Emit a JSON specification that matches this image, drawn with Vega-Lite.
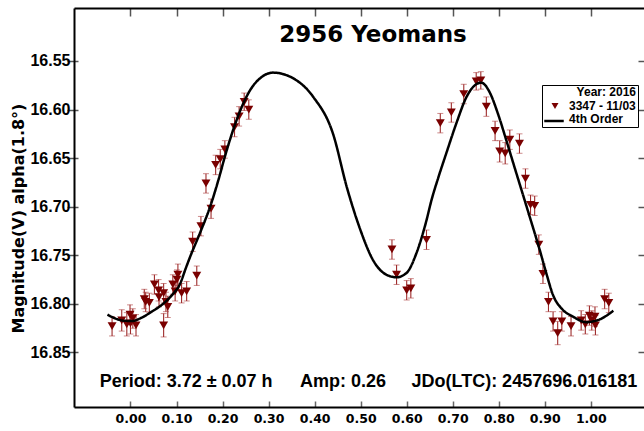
{
  "$schema": "https://vega.github.io/schema/vega-lite/v6.json",
  "width": 570,
  "height": 399,
  "autosize": {"type": "none"},
  "padding": {"left": 74, "top": 8, "right": 0, "bottom": 24},
  "background": "white",
  "title": {"text": "2956 Yeomans", "font": "DejaVu Sans", "fontSize": 23, "fontWeight": "bold", "color": "black", "anchor": "middle", "frame": "group", "baseline": "alphabetic", "offset": 0, "dx": 14, "dy": 58},
  "config": {"view": {"stroke": null}, "axis": {"grid": false, "labelFlush": false}},
  "datasets": {
    "obs": [
      {"phase": -0.040, "mag": 16.823, "err": 0.010},
      {"phase": -0.019, "mag": 16.817, "err": 0.011},
      {"phase": -0.008, "mag": 16.821, "err": 0.012},
      {"phase": -0.001, "mag": 16.811, "err": 0.010},
      {"phase": 0.000, "mag": 16.820, "err": 0.011},
      {"phase": 0.005, "mag": 16.815, "err": 0.010},
      {"phase": 0.012, "mag": 16.822, "err": 0.011},
      {"phase": 0.030, "mag": 16.795, "err": 0.010},
      {"phase": 0.033, "mag": 16.798, "err": 0.010},
      {"phase": 0.041, "mag": 16.799, "err": 0.010},
      {"phase": 0.052, "mag": 16.780, "err": 0.010},
      {"phase": 0.061, "mag": 16.786, "err": 0.011},
      {"phase": 0.062, "mag": 16.793, "err": 0.010},
      {"phase": 0.072, "mag": 16.789, "err": 0.010},
      {"phase": 0.072, "mag": 16.822, "err": 0.012},
      {"phase": 0.077, "mag": 16.798, "err": 0.010},
      {"phase": 0.081, "mag": 16.803, "err": 0.011},
      {"phase": 0.092, "mag": 16.780, "err": 0.010},
      {"phase": 0.097, "mag": 16.787, "err": 0.010},
      {"phase": 0.101, "mag": 16.775, "err": 0.010},
      {"phase": 0.103, "mag": 16.770, "err": 0.011},
      {"phase": 0.111, "mag": 16.789, "err": 0.010},
      {"phase": 0.122, "mag": 16.787, "err": 0.010},
      {"phase": 0.144, "mag": 16.771, "err": 0.010},
      {"phase": 0.135, "mag": 16.736, "err": 0.010},
      {"phase": 0.153, "mag": 16.720, "err": 0.010},
      {"phase": 0.164, "mag": 16.676, "err": 0.010},
      {"phase": 0.175, "mag": 16.702, "err": 0.010},
      {"phase": 0.185, "mag": 16.657, "err": 0.010},
      {"phase": 0.195, "mag": 16.651, "err": 0.010},
      {"phase": 0.205, "mag": 16.641, "err": 0.009},
      {"phase": 0.226, "mag": 16.618, "err": 0.010},
      {"phase": 0.236, "mag": 16.607, "err": 0.010},
      {"phase": 0.247, "mag": 16.592, "err": 0.009},
      {"phase": 0.257, "mag": 16.600, "err": 0.010},
      {"phase": 0.568, "mag": 16.744, "err": 0.010},
      {"phase": 0.578, "mag": 16.770, "err": 0.010},
      {"phase": 0.600, "mag": 16.786, "err": 0.010},
      {"phase": 0.609, "mag": 16.784, "err": 0.010},
      {"phase": 0.643, "mag": 16.734, "err": 0.010},
      {"phase": 0.673, "mag": 16.614, "err": 0.010},
      {"phase": 0.697, "mag": 16.603, "err": 0.010},
      {"phase": 0.724, "mag": 16.584, "err": 0.010},
      {"phase": 0.751, "mag": 16.571, "err": 0.009},
      {"phase": 0.761, "mag": 16.570, "err": 0.009},
      {"phase": 0.773, "mag": 16.597, "err": 0.010},
      {"phase": 0.792, "mag": 16.622, "err": 0.010},
      {"phase": 0.802, "mag": 16.643, "err": 0.011},
      {"phase": 0.814, "mag": 16.645, "err": 0.011},
      {"phase": 0.824, "mag": 16.631, "err": 0.010},
      {"phase": 0.845, "mag": 16.635, "err": 0.010},
      {"phase": 0.858, "mag": 16.671, "err": 0.010},
      {"phase": 0.869, "mag": 16.698, "err": 0.010},
      {"phase": 0.878, "mag": 16.699, "err": 0.010},
      {"phase": 0.887, "mag": 16.739, "err": 0.010},
      {"phase": 0.896, "mag": 16.769, "err": 0.010},
      {"phase": 0.908, "mag": 16.798, "err": 0.010},
      {"phase": 0.918, "mag": 16.818, "err": 0.010},
      {"phase": 0.928, "mag": 16.830, "err": 0.012},
      {"phase": 0.937, "mag": 16.818, "err": 0.010},
      {"phase": 0.957, "mag": 16.823, "err": 0.010},
      {"phase": 0.979, "mag": 16.817, "err": 0.010},
      {"phase": 0.988, "mag": 16.821, "err": 0.010},
      {"phase": 0.997, "mag": 16.812, "err": 0.010},
      {"phase": 1.002, "mag": 16.817, "err": 0.010},
      {"phase": 1.009, "mag": 16.813, "err": 0.010},
      {"phase": 1.010, "mag": 16.822, "err": 0.010},
      {"phase": 1.030, "mag": 16.795, "err": 0.010},
      {"phase": 1.039, "mag": 16.799, "err": 0.010}
    ],
    "fit": [
      {"phase": -0.050, "mag": 16.811},
      {"phase": -0.033, "mag": 16.815},
      {"phase": -0.015, "mag": 16.8173},
      {"phase": 0.003, "mag": 16.8176},
      {"phase": 0.025, "mag": 16.814},
      {"phase": 0.046, "mag": 16.808},
      {"phase": 0.068, "mag": 16.801},
      {"phase": 0.090, "mag": 16.791},
      {"phase": 0.108, "mag": 16.779},
      {"phase": 0.120, "mag": 16.7635},
      {"phase": 0.130, "mag": 16.751},
      {"phase": 0.151, "mag": 16.727},
      {"phase": 0.173, "mag": 16.700},
      {"phase": 0.191, "mag": 16.6725},
      {"phase": 0.205, "mag": 16.6485},
      {"phase": 0.223, "mag": 16.621},
      {"phase": 0.242, "mag": 16.597},
      {"phase": 0.260, "mag": 16.580},
      {"phase": 0.281, "mag": 16.568},
      {"phase": 0.310, "mag": 16.562},
      {"phase": 0.354, "mag": 16.568},
      {"phase": 0.397, "mag": 16.587},
      {"phase": 0.440, "mag": 16.625},
      {"phase": 0.470, "mag": 16.680},
      {"phase": 0.498, "mag": 16.722},
      {"phase": 0.527, "mag": 16.755},
      {"phase": 0.556, "mag": 16.770},
      {"phase": 0.578, "mag": 16.7726},
      {"phase": 0.600, "mag": 16.768},
      {"phase": 0.621, "mag": 16.748},
      {"phase": 0.643, "mag": 16.714},
      {"phase": 0.654, "mag": 16.693},
      {"phase": 0.668, "mag": 16.671},
      {"phase": 0.686, "mag": 16.645},
      {"phase": 0.708, "mag": 16.614},
      {"phase": 0.730, "mag": 16.587},
      {"phase": 0.751, "mag": 16.574},
      {"phase": 0.762, "mag": 16.5723},
      {"phase": 0.780, "mag": 16.582},
      {"phase": 0.798, "mag": 16.604},
      {"phase": 0.816, "mag": 16.631},
      {"phase": 0.834, "mag": 16.659},
      {"phase": 0.845, "mag": 16.676},
      {"phase": 0.867, "mag": 16.710},
      {"phase": 0.889, "mag": 16.7445},
      {"phase": 0.903, "mag": 16.768},
      {"phase": 0.918, "mag": 16.791},
      {"phase": 0.939, "mag": 16.806},
      {"phase": 0.961, "mag": 16.813},
      {"phase": 0.990, "mag": 16.8188},
      {"phase": 1.019, "mag": 16.816},
      {"phase": 1.049, "mag": 16.807}
    ]
  },
  "resolve": {"axis": {"x": "independent", "y": "independent"}},
  "layer": [
    {
      "data": {"name": "obs"},
      "mark": {"type": "errorbar", "ticks": {"size": 6, "color": "#b85a5a"}, "rule": {"color": "#9e2b2b", "strokeWidth": 1.1}},
      "encoding": {
        "x": {"field": "phase", "type": "quantitative", "scale": {"domain": [-0.1227, 1.1155], "nice": false, "zero": false},
              "axis": {"orient": "top", "title": null, "labels": false, "domain": true, "domainColor": "black", "domainWidth": 2, "ticks": true, "tickSize": -8, "tickColor": "#555555", "tickWidth": 1.5, "values": [0, 0.1, 0.2, 0.3, 0.4, 0.5, 0.6, 0.7, 0.8, 0.9, 1.0]}},
        "y": {"field": "mag", "type": "quantitative", "scale": {"domain": [16.4955, 16.9061], "reverse": true, "nice": false, "zero": false},
              "axis": {"orient": "right", "title": null, "labels": false, "domain": false, "ticks": true, "tickSize": -6, "tickColor": "#555555", "tickWidth": 1.5, "values": [16.55, 16.6, 16.65, 16.7, 16.75, 16.8, 16.85]}},
        "yError": {"field": "err"}
      }
    },
    {
      "data": {"name": "obs"},
      "mark": {"type": "point", "shape": "triangle-down", "filled": true, "size": 80, "opacity": 1},
      "encoding": {
        "x": {"field": "phase", "type": "quantitative", "scale": {"domain": [-0.1227, 1.1155], "nice": false, "zero": false},
              "axis": {"orient": "bottom", "title": null, "labels": false, "domain": false, "ticks": true, "tickSize": -6, "tickColor": "#666666", "tickWidth": 1.5, "values": [0, 0.1, 0.2, 0.3, 0.4, 0.5, 0.6, 0.7, 0.8, 0.9, 1.0]}},
        "y": {"field": "mag", "type": "quantitative", "scale": {"domain": [16.4955, 16.9061], "reverse": true, "nice": false, "zero": false},
              "axis": {"orient": "left", "title": null, "labels": false, "domain": false, "ticks": true, "tickSize": -4, "tickColor": "#555555", "tickWidth": 1.5, "values": [16.55, 16.6, 16.65, 16.7, 16.75, 16.8, 16.85]}},
        "color": {"datum": "3347 - 11/03", "type": "nominal",
                  "scale": {"domain": ["3347 - 11/03", "4th Order"], "range": ["#7a0000", "transparent"]},
                  "legend": {"orient": "none", "legendX": 468, "legendY": 77, "title": "Year: 2016", "titleAnchor": "end",
                             "titleFont": "Liberation Sans", "titleFontSize": 12, "titleFontWeight": "bold", "titleColor": "black", "titlePadding": 1,
                             "labelFont": "Liberation Sans", "labelFontSize": 12, "labelFontWeight": "bold", "labelColor": "black",
                             "fillColor": "white", "strokeColor": "black", "padding": 2, "rowPadding": 1,
                             "symbolSize": 49, "symbolOffset": 5, "labelOffset": 8}}
      }
    },
    {
      "data": {"name": "fit"},
      "mark": {"type": "line", "strokeWidth": 2.5, "interpolate": "monotone", "color": "#000000"},
      "encoding": {
        "x": {"field": "phase", "type": "quantitative", "scale": {"domain": [-0.1227, 1.1155], "nice": false, "zero": false},
              "axis": {"orient": "bottom", "title": null, "domain": true, "domainColor": "black", "domainWidth": 2, "ticks": false,
                       "labelFont": "DejaVu Sans", "labelFontSize": 12.5, "labelFontWeight": "bold", "labelColor": "black", "labelPadding": 5.5,
                       "format": ".2f", "values": [0, 0.1, 0.2, 0.3, 0.4, 0.5, 0.6, 0.7, 0.8, 0.9, 1.0]}},
        "y": {"field": "mag", "type": "quantitative", "scale": {"domain": [16.4955, 16.9061], "reverse": true, "nice": false, "zero": false},
              "axis": {"orient": "left", "domain": true, "domainColor": "black", "domainWidth": 2, "ticks": true, "tickSize": 7, "tickColor": "#555555", "tickWidth": 1.5,
                       "labelFont": "Liberation Sans", "labelFontSize": 16, "labelFontWeight": "bold", "labelColor": "black", "labelPadding": -3,
                       "format": ".2f", "values": [16.55, 16.6, 16.65, 16.7, 16.75, 16.8, 16.85],
                       "title": "Magnitude(V) alpha(1.8°)", "titleFont": "DejaVu Sans", "titleFontSize": 16, "titleFontWeight": "bold", "titleColor": "black",
                       "titleAngle": -90, "titleX": -56, "titleY": 210, "titleAlign": "center", "titleBaseline": "middle"}},
        "strokeDash": {"datum": "4th Order", "type": "nominal", "scale": {"domain": ["4th Order"], "range": [[1, 0]]},
                       "legend": {"orient": "none", "legendX": 469, "legendY": 102, "title": null, "labelExpr": "''",
                                  "symbolType": "stroke", "symbolSize": 380, "symbolStrokeWidth": 2.5, "symbolStrokeColor": "#000000",
                                  "padding": 0, "labelFontSize": 12}}
      }
    },
    {
      "data": {"values": [{}]},
      "mark": {"type": "text", "align": "left", "baseline": "alphabetic", "font": "Liberation Sans", "fontSize": 18, "fontWeight": "bold", "color": "black"},
      "encoding": {
        "x": {"datum": -0.067, "type": "quantitative", "axis": null, "scale": {"domain": [-0.1227, 1.1155], "nice": false, "zero": false}},
        "y": {"datum": 16.8852, "type": "quantitative", "axis": null, "scale": {"domain": [16.4955, 16.9061], "reverse": true, "nice": false, "zero": false}},
        "text": {"value": "Period: 3.72 ± 0.07 h"}
      }
    },
    {
      "data": {"values": [{}]},
      "mark": {"type": "text", "align": "left", "baseline": "alphabetic", "font": "Liberation Sans", "fontSize": 18, "fontWeight": "bold", "color": "black"},
      "encoding": {
        "x": {"datum": 0.368, "type": "quantitative", "axis": null, "scale": {"domain": [-0.1227, 1.1155], "nice": false, "zero": false}},
        "y": {"datum": 16.8852, "type": "quantitative", "axis": null, "scale": {"domain": [16.4955, 16.9061], "reverse": true, "nice": false, "zero": false}},
        "text": {"value": "Amp: 0.26"}
      }
    },
    {
      "data": {"values": [{}]},
      "mark": {"type": "text", "align": "left", "baseline": "alphabetic", "font": "Liberation Sans", "fontSize": 18, "fontWeight": "bold", "color": "black"},
      "encoding": {
        "x": {"datum": 0.6104, "type": "quantitative", "axis": null, "scale": {"domain": [-0.1227, 1.1155], "nice": false, "zero": false}},
        "y": {"datum": 16.8852, "type": "quantitative", "axis": null, "scale": {"domain": [16.4955, 16.9061], "reverse": true, "nice": false, "zero": false}},
        "text": {"value": "JDo(LTC): 2457696.016181"}
      }
    }
  ]
}
